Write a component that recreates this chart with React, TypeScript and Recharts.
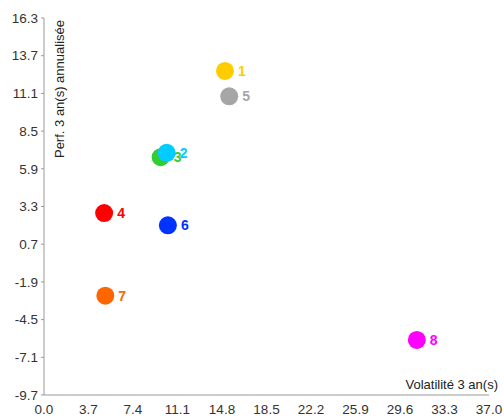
import React from 'react';
import { ScatterChart, Scatter, XAxis, YAxis, Cell } from 'recharts';

// Fund numbers, 3y volatility, 3y annualised perf, marker colours
const LABELS = ['1', '2', '3', '4', '5', '6', '7', '8'];
const VOLATILITY = [15.05, 10.2, 9.7, 5.0, 15.4, 10.3, 5.1, 31.0];
const PERF = [12.65, 7.0, 6.7, 2.85, 10.9, 2.0, -2.85, -5.9];
const COLORS = ['#FFCC00', '#00CCFF', '#33CC33', '#FF0000', '#A6A6A6', '#0033FF', '#FF6600', '#FF00FF'];

const X_TICKS = [0.0, 3.7, 7.4, 11.1, 14.8, 18.5, 22.2, 25.9, 29.6, 33.3, 37.0];
const Y_TICKS = [-9.7, -7.1, -4.5, -1.9, 0.7, 3.3, 5.9, 8.5, 11.1, 13.7, 16.3];

const FONT = '"Liberation Sans", Arial, sans-serif';

// draw back to front so the first funds sit on top
const chartData = LABELS.map((label, i) => ({
  label,
  x: VOLATILITY[i],
  y: PERF[i],
  color: COLORS[i],
})).reverse();

const PointShape = (props: any) => {
  const { cx, cy, payload } = props;
  return (
    <g>
      <circle cx={cx} cy={cy} r={9} fill={payload.color} />
      <text
        x={cx + 13}
        y={cy}
        dy="0.36em"
        fill={payload.color}
        fontSize={14}
        fontWeight="bold"
        fontFamily={FONT}
      >
        {payload.label}
      </text>
    </g>
  );
};

const YTitle = (props: any) => {
  const { viewBox } = props;
  return (
    <text
      x={viewBox.x + viewBox.width + 20}
      y={viewBox.y + 2}
      transform={`rotate(-90, ${viewBox.x + viewBox.width + 20}, ${viewBox.y + 2})`}
      textAnchor="end"
      fill="#222"
      fontSize={13}
      fontFamily={FONT}
    >
      Perf. 3 an(s) annualisée
    </text>
  );
};

const XTitle = (props: any) => {
  const { viewBox } = props;
  return (
    <text
      x={viewBox.x + viewBox.width + 9}
      y={viewBox.y - 6}
      textAnchor="end"
      fill="#222"
      fontSize={13}
      fontFamily={FONT}
    >
      Volatilité 3 an(s)
    </text>
  );
};

export default function App() {
  return (
    <div style={{ position: 'absolute', left: 0, top: 0, background: '#fff' }}>
      <ScatterChart width={504} height={417} margin={{ top: 18, right: 15, bottom: 2, left: 0 }}>
        <XAxis
          type="number"
          dataKey="x"
          domain={[0, 37]}
          ticks={X_TICKS}
          tickFormatter={(v: number) => v.toFixed(1)}
          interval={0}
          height={20}
          tickLine={false}
          tickSize={3}
          tickMargin={6}
          axisLine={{ stroke: '#999' }}
          tick={{ fill: '#333', fontSize: 13.5, fontFamily: FONT }}
          allowDataOverflow
          label={<XTitle />}
        />
        <YAxis
          type="number"
          dataKey="y"
          domain={[-9.7, 16.3]}
          ticks={Y_TICKS}
          tickFormatter={(v: number) => v.toFixed(1)}
          interval={0}
          width={44}
          tickSize={3}
          tickMargin={3}
          tickLine={{ stroke: '#999' }}
          axisLine={{ stroke: '#999' }}
          tick={{ fill: '#333', fontSize: 13.5, fontFamily: FONT }}
          allowDataOverflow
          label={<YTitle />}
        />
        <Scatter data={chartData} shape={PointShape} isAnimationActive={false}>
          {chartData.map((d, i) => (
            <Cell key={`cell-${i}`} fill={d.color} />
          ))}
        </Scatter>
      </ScatterChart>
    </div>
  );
}
